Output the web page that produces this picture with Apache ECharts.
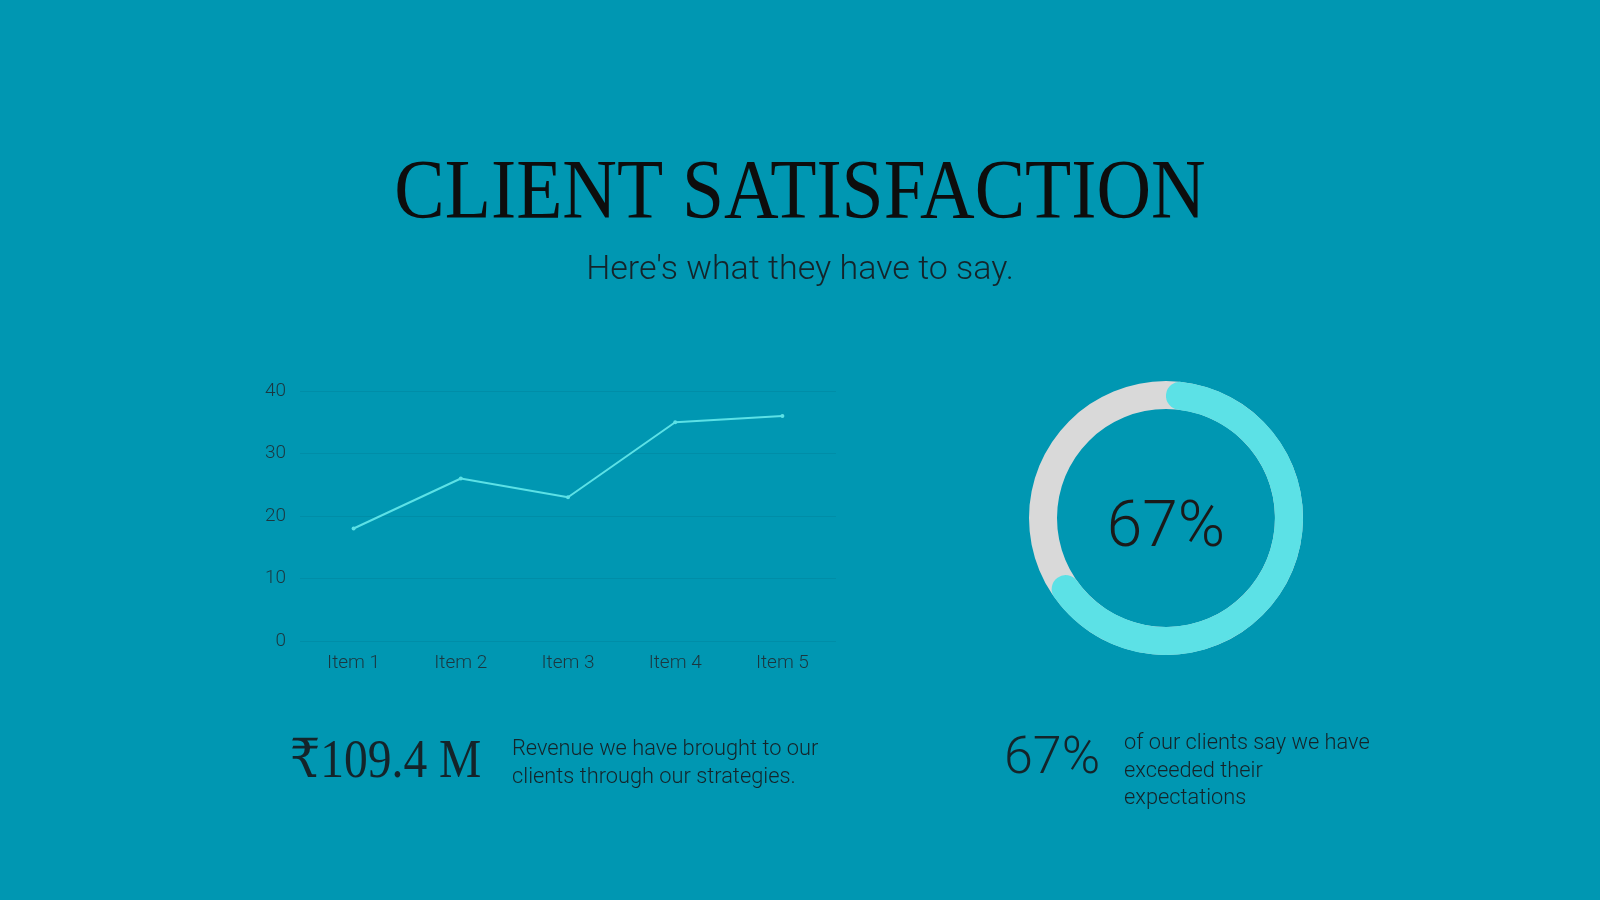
<!DOCTYPE html>
<html>
<head>
<meta charset="utf-8">
<title>Client Satisfaction</title>
<script src="https://cdn.jsdelivr.net/npm/echarts@6/dist/echarts.min.js"></script>
<style>
  html, body { margin: 0; padding: 0; background: #0097b2; }
  #main { width: 1600px; height: 900px; }
</style>
</head>
<body>
<div id="main"></div>
<script>
// data
const categories = ["Item 1", "Item 2", "Item 3", "Item 4", "Item 5"];
const values = [18, 26, 23, 35, 36];
const yTicks = [0, 10, 20, 30, 40];
const satisfied = 67;
const revenueLabel = "₹109.4 M";
const revenueLines = ["Revenue we have brought to our", "clients through our strategies."];
const satisfiedLines = ["of our clients say we have", "exceeded their", "expectations"];

const chart = echarts.init(document.getElementById("main"));

const sans = "Roboto, 'Open Sans', sans-serif";
const serif = "'Liberation Serif', 'DejaVu Serif', serif";
const ink = "#14242a";

function textEl(x, y, text, font, opts) {
  return Object.assign({
    type: "text",
    x: x,
    y: y,
    silent: true,
    style: {
      x: 0,
      y: 0,
      text: text,
      font: font,
      fill: ink,
      textAlign: "left",
      textVerticalAlign: "middle",
    },
  }, opts || {});
}

const graphics = [
  textEl(800, 196, "CLIENT SATISFACTION", "84px " + serif, { scaleX: 0.9 }),
  textEl(800, 270, "Here's what they have to say.", "300 34px " + sans),
  textEl(290, 763, revenueLabel, "54px " + serif, { scaleX: 0.88 }),
  textEl(1004, 760, satisfied + "%", "300 52px " + sans),
];
graphics[0].style.textAlign = "center";
graphics[0].style.fill = "#0d0d0d";
graphics[1].style.textAlign = "center";

revenueLines.forEach((line, i) => {
  graphics.push(textEl(512, 750 + i * 27.5, line, "300 21.8px " + sans));
});
satisfiedLines.forEach((line, i) => {
  graphics.push(textEl(1124, 744 + i * 27.5, line, "300 21.8px " + sans));
});

// donut ring geometry; rounded caps sit inside the 67% span like the original
const ringCenter = [1166, 518];
const ringRadius = 137;
const ringWidth = 28;
const capDeg = (ringWidth / 2) / (ringRadius - ringWidth / 2) * 180 / Math.PI;
const degPerUnit = (satisfied / 100 * 360 - 2 * capDeg) / satisfied;
const arcStart = 90 - capDeg;

const option = {
  backgroundColor: "#0097b2",
  animation: false,
  graphic: graphics,
  grid: {
    left: 300,
    right: 764,
    top: 391,
    bottom: 259,
  },
  xAxis: {
    type: "category",
    data: categories,
    boundaryGap: true,
    axisLine: { show: false },
    axisTick: { show: false },
    axisLabel: {
      margin: 13,
      fontSize: 19,
      fontFamily: sans,
      fontWeight: 300,
      color: "#1b3740",
    },
  },
  yAxis: {
    type: "value",
    min: yTicks[0],
    max: yTicks[yTicks.length - 1],
    interval: 10,
    axisLine: { show: false },
    axisTick: { show: false },
    axisLabel: {
      margin: 14,
      fontSize: 19,
      fontFamily: sans,
      fontWeight: 300,
      color: "#1b3740",
    },
    splitLine: {
      lineStyle: { color: "rgba(0, 40, 60, 0.09)", width: 1 },
    },
  },
  series: [
    {
      type: "line",
      data: values,
      symbol: "circle",
      symbolSize: 4,
      lineStyle: { color: "#5ce1e6", width: 2 },
      itemStyle: { color: "#5ce1e6" },
    },
    {
      // grey track, full circle
      type: "gauge",
      center: ringCenter,
      radius: ringRadius,
      startAngle: 90,
      endAngle: -270,
      pointer: { show: false },
      axisLine: { lineStyle: { width: ringWidth, color: [[1, "#d9d9d9"]] } },
      axisTick: { show: false },
      splitLine: { show: false },
      axisLabel: { show: false },
      title: { show: false },
      detail: { show: false },
      data: [{ value: 0 }],
    },
    {
      type: "gauge",
      center: ringCenter,
      radius: ringRadius,
      startAngle: arcStart,
      endAngle: arcStart - degPerUnit * 100,
      min: 0,
      max: 100,
      pointer: { show: false },
      axisLine: { lineStyle: { width: ringWidth, color: [[1, "rgba(0,0,0,0)"]] } },
      progress: {
        show: true,
        roundCap: true,
        width: ringWidth,
        itemStyle: { color: "#5ce1e6" },
      },
      axisTick: { show: false },
      splitLine: { show: false },
      axisLabel: { show: false },
      title: { show: false },
      detail: {
        offsetCenter: [0, 12],
        formatter: "{value}%",
        fontSize: 64,
        fontWeight: 300,
        fontFamily: sans,
        color: "#1a1a1a",
      },
      data: [{ value: satisfied }],
    },
  ],
};

chart.setOption(option);
</script>
</body>
</html>
